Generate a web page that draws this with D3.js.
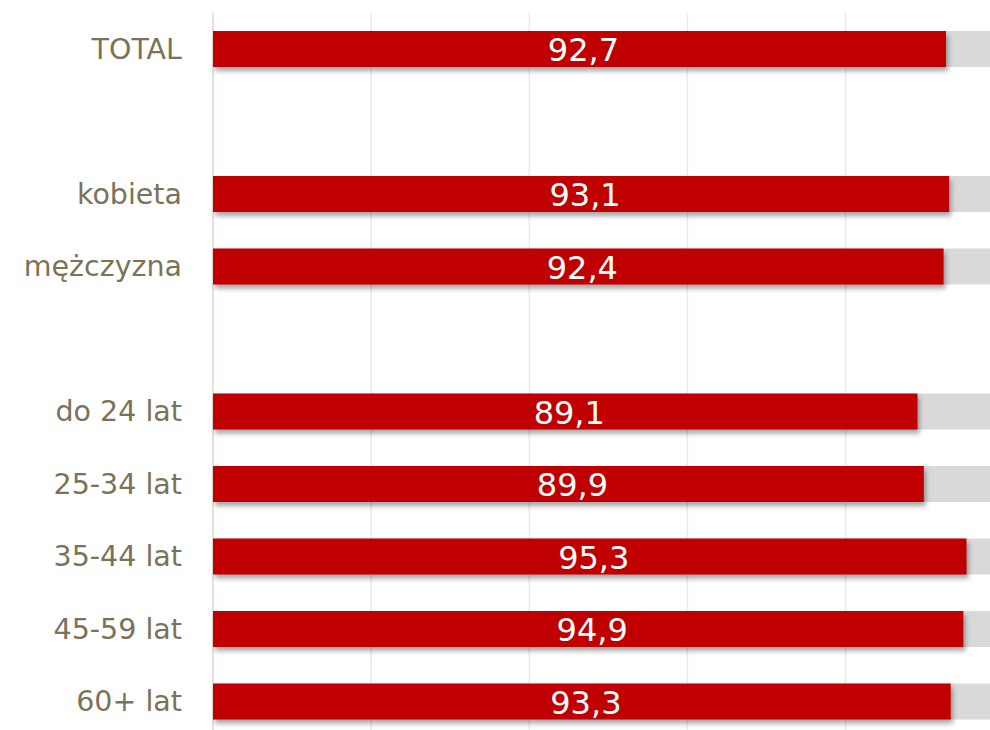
<!DOCTYPE html>
<html><head><meta charset="utf-8">
<script src="https://cdn.jsdelivr.net/npm/d3@7"></script>
<style>
html,body{margin:0;padding:0;background:#fff;overflow:hidden}
svg{display:block}
</style></head>
<body>
<script>
const categories = ["TOTAL", "", "kobieta", "mężczyzna", " ", "do 24 lat", "25-34 lat", "35-44 lat", "45-59 lat", "60+ lat"];
const values = [92.7, null, 93.1, 92.4, null, 89.1, 89.9, 95.3, 94.9, 93.3];
const maxValue = 100;
const gridTicks = [0, 20, 40, 60, 80, 100];

const W = 990, H = 730;
const svg = d3.select("body").append("svg").attr("width", W).attr("height", H);

const defs = svg.append("defs");
const f = defs.append("filter").attr("id", "shadow").attr("x", "-5%").attr("y", "-30%").attr("width", "110%").attr("height", "180%");
f.append("feDropShadow").attr("dx", 2).attr("dy", 4).attr("stdDeviation", 2.5)
  .attr("flood-color", "#000").attr("flood-opacity", 0.35);

const x = d3.scaleLinear().domain([0, maxValue]).range([213, 213 + 790.7]);
const y = d3.scalePoint().domain(categories).range([49, 701.5]);
const bh = 36;

// gridlines
svg.append("g").selectAll("line").data(gridTicks).join("line")
  .attr("x1", d => x(d)).attr("x2", d => x(d))
  .attr("y1", 13).attr("y2", H)
  .attr("stroke", d => d === 0 ? "#e3e1da" : "#ebe9e4").attr("stroke-width", d => d === 0 ? 2 : 1.5);

const rows = categories.map((c, i) => ({c, v: values[i]})).filter(d => d.v != null);

// background bars
svg.append("g").selectAll("rect").data(rows).join("rect")
  .attr("x", x(0)).attr("y", d => y(d.c) - bh / 2)
  .attr("width", x(maxValue) - x(0)).attr("height", bh)
  .attr("fill", "#d9d9d9");

// value bars
svg.append("g").selectAll("rect").data(rows).join("rect")
  .attr("x", x(0)).attr("y", d => y(d.c) - bh / 2)
  .attr("width", d => x(d.v) - x(0)).attr("height", bh)
  .attr("fill", "#c00000").attr("filter", "url(#shadow)");

const font = "'Century Gothic','URW Gothic','DejaVu Sans',sans-serif";

// category labels
svg.append("g").selectAll("text").data(rows).join("text")
  .attr("x", 182).attr("y", d => y(d.c))
  .attr("text-anchor", "end").attr("dominant-baseline", "central")
  .attr("font-family", font).attr("font-size", 28.5)
  .attr("fill", "#7a735a")
  .text(d => d.c);

// value labels
svg.append("g").selectAll("text").data(rows).join("text")
  .attr("x", d => (x(0) + x(d.v)) / 2 + 4).attr("y", d => y(d.c) + 1)
  .attr("text-anchor", "middle").attr("dominant-baseline", "central")
  .attr("font-family", font).attr("font-size", 32)
  .attr("fill", "#ffffff")
  .text(d => d3.format(".1f")(d.v).replace(".", ","));
</script>
</body></html>
